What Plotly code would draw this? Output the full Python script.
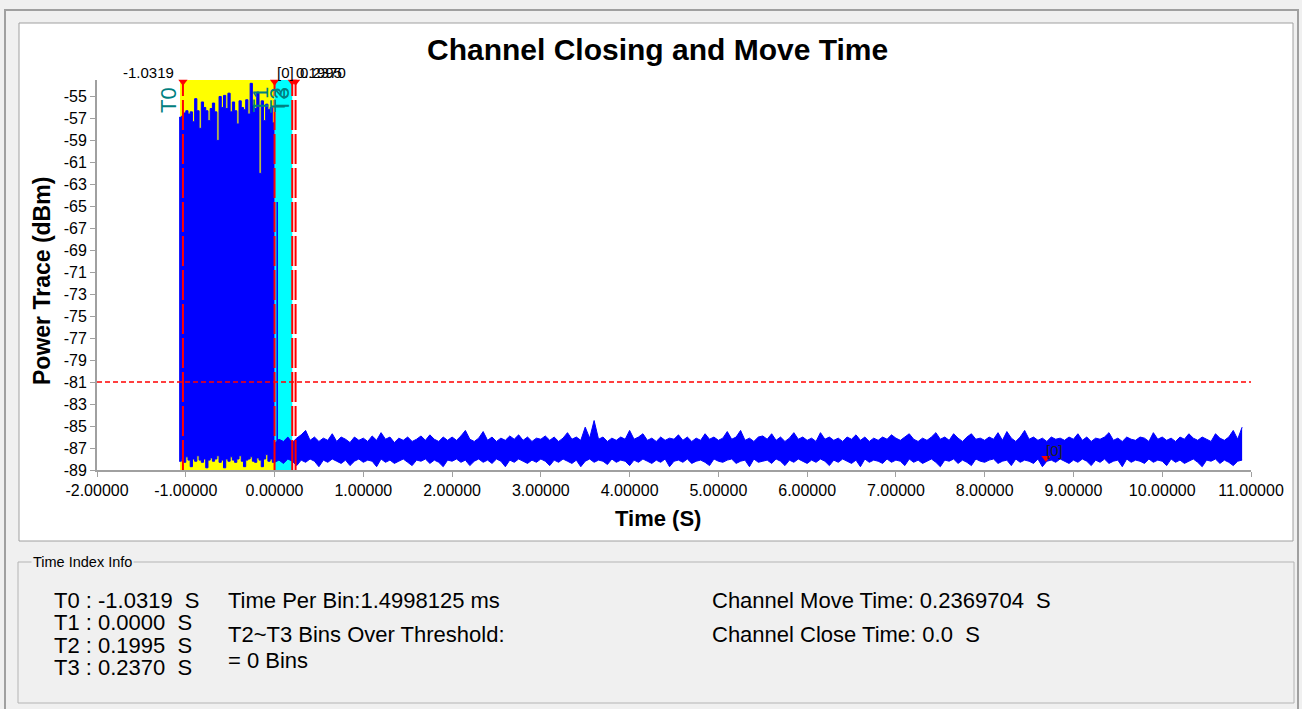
import numpy as np
import plotly.graph_objects as go

# ---------------- data ----------------
# Segment A: strong signal before T1 (upper / lower envelope of the power trace, dBm)
seg_a_start = -1.075
seg_a_step = 0.025
power_hi_a = [
    -56.9, -56.8, -56.5, -56.3, -56.6, -56.4, -57.3, -55.2, -56.3, -57.9, -55.5,
    -56.0, -56.3, -57.2, -56.1, -55.6, -56.4, -59.0, -55.0, -56.0, -54.9, -56.1,
    -54.7, -56.4, -55.5, -56.3, -57.5, -55.4, -56.0, -56.2, -55.3, -56.6, -53.8,
    -55.8, -56.1, -54.6, -62.0, -55.4, -57.2, -55.7, -56.2, -56.0, -57.4, -56.5,
]
power_lo_a = [
    -88.2, -88.0, -88.3, -87.8, -88.1, -88.7, -88.0, -88.2, -87.7, -88.1, -88.3,
    -88.0, -88.8, -88.1, -87.9, -88.2, -88.0, -87.7, -88.3, -88.1, -88.8, -88.0,
    -88.2, -87.8, -88.1, -88.3, -88.0, -87.7, -88.2, -88.7, -88.1, -88.0, -87.8,
    -88.2, -88.3, -87.9, -88.1, -88.7, -88.0, -87.6, -88.2, -88.0, -88.3, -88.1,
]

# Segment B: noise floor after T1 (upper / lower envelope, dBm)
seg_b_start = 0.0
seg_b_step = 0.05
power_hi_b = [
    -86.6, -86.2, -86.4, -86.0, -86.5, -86.1, -85.8, -85.4, -86.3, -86.0, -86.4, -86.1, -86.3, -85.7, -86.4, -86.0, -86.2, -86.5, -86.0, -86.3,
    -86.1, -86.4, -85.9, -86.3, -85.6, -86.2, -86.0, -86.5, -86.1, -86.3, -86.0, -86.4, -86.2, -85.9, -86.3, -85.8, -86.2, -86.4, -86.0, -86.3,
    -86.0, -86.3, -85.9, -85.4, -86.2, -86.4, -86.1, -85.5, -86.3, -86.0, -86.4, -86.1, -86.3, -85.9, -86.2, -85.8, -86.3, -86.0, -86.4, -86.1,
    -86.2, -85.9, -86.3, -86.0, -86.4, -86.1, -85.6, -86.2, -86.0, -86.3, -85.1, -86.1, -84.5, -86.2, -86.0, -86.4, -86.1, -86.3, -86.0, -86.2,
    -85.4, -86.2, -86.0, -85.7, -86.3, -86.1, -86.4, -86.0, -86.3, -86.1, -86.2, -85.8, -86.3, -86.0, -86.4, -86.1, -86.3, -85.7, -86.2, -86.0,
    -86.3, -86.1, -85.5, -86.2, -86.0, -85.4, -86.3, -86.1, -86.4, -86.0, -85.9, -86.2, -85.7, -86.3, -86.0, -86.4, -86.1, -85.6, -86.2, -86.0,
    -86.3, -86.1, -86.4, -85.6, -86.2, -86.0, -86.3, -86.1, -86.4, -86.0, -86.2, -85.8, -86.3, -86.0, -86.4, -86.1, -86.3, -86.0, -86.2, -85.8,
    -86.1, -86.3, -86.0, -85.7, -86.2, -86.4, -86.1, -86.3, -86.0, -85.6, -86.2, -86.0, -86.3, -85.7, -86.1, -86.4, -86.0, -85.7, -86.2, -86.1,
    -86.3, -86.0, -86.2, -85.6, -86.3, -85.5, -86.1, -86.4, -86.0, -85.4, -86.2, -86.0, -86.3, -86.1, -86.4, -86.0, -86.2, -86.1, -86.3, -86.0,
    -86.2, -85.7, -86.3, -86.0, -86.4, -86.1, -86.2, -86.0, -85.6, -86.3, -86.1, -86.4, -86.0, -86.2, -86.3, -86.0, -86.1, -86.4, -85.6, -86.2,
    -86.0, -86.3, -86.1, -86.4, -86.0, -86.2, -85.7, -86.1, -86.3, -86.0, -86.2, -86.4, -85.7, -86.1, -86.3, -86.0, -85.4, -86.2, -85.1,
]
power_lo_b = [
    -88.3, -88.1, -88.4, -88.0, -88.2, -88.6, -88.1, -88.3, -88.0, -88.2, -88.7, -88.1, -88.3, -88.0, -88.2, -88.4, -88.1, -88.6, -88.2, -88.0,
    -88.3, -88.1, -88.2, -88.7, -88.0, -88.3, -88.1, -88.4, -88.2, -88.0, -88.3, -88.6, -88.1, -88.2, -88.0, -88.4, -88.1, -88.3, -88.7, -88.1,
    -88.2, -88.0, -88.3, -88.1, -88.6, -88.2, -88.0, -88.3, -88.1, -88.4, -88.0, -88.2, -88.7, -88.1, -88.3, -88.0, -88.2, -88.4, -88.1, -88.3,
    -88.0, -88.2, -88.6, -88.1, -88.3, -88.0, -88.2, -88.4, -88.1, -88.7, -88.2, -88.0, -88.3, -88.1, -88.2, -88.5, -88.0, -88.3, -88.1, -88.2,
    -88.6, -88.1, -88.3, -88.0, -88.2, -88.4, -88.1, -88.3, -88.0, -88.7, -88.2, -88.1, -88.3, -88.0, -88.4, -88.2, -88.1, -88.3, -88.6, -88.0,
    -88.2, -88.3, -88.1, -88.0, -88.4, -88.2, -88.1, -88.7, -88.0, -88.3, -88.2, -88.1, -88.4, -88.0, -88.2, -88.6, -88.1, -88.3, -88.0, -88.2,
    -88.4, -88.1, -88.3, -88.0, -88.2, -88.6, -88.1, -88.3, -88.0, -88.2, -88.4, -88.1, -88.7, -88.0, -88.3, -88.1, -88.2, -88.4, -88.0, -88.3,
    -88.1, -88.2, -88.6, -88.0, -88.3, -88.1, -88.4, -88.2, -88.0, -88.3, -88.7, -88.1, -88.2, -88.0, -88.4, -88.1, -88.3, -88.6, -88.0, -88.2,
    -88.3, -88.1, -88.0, -88.4, -88.2, -88.1, -88.6, -88.0, -88.3, -88.1, -88.2, -88.4, -88.0, -88.7, -88.2, -88.1, -88.3, -88.0, -88.2, -88.4,
    -88.1, -88.3, -88.0, -88.2, -88.6, -88.1, -88.3, -88.0, -88.4, -88.2, -88.1, -88.7, -88.0, -88.3, -88.1, -88.2, -88.4, -88.0, -88.3, -88.1,
    -88.2, -88.6, -88.0, -88.3, -88.1, -88.4, -88.2, -88.0, -88.3, -88.7, -88.1, -88.2, -88.0, -88.4, -88.1, -88.3, -88.6, -88.2, -88.1,
]

# narrow spikes (time s, peak dBm)
spike_times = [0.03]
spike_peaks = [-64.6]

# time markers
marker_names = ["T0", "T1", "T2", "T3"]
marker_times = [-1.0319, 0.0, 0.1995, 0.2370]
marker_top_labels = ["-1.0319", "[0]", "0.1995", "0.2370"]
threshold_dbm = -81
cursor_time = 8.69
cursor_power = -87.9
cursor_label = "[0]"
yellow_region = [-1.065, 0.0]
cyan_region = [0.0, 0.1995]

x_tick_vals = list(range(-2, 12))
y_tick_vals = list(range(-55, -90, -2))
x_range = [-2, 11]
y_range = [-89, -53.5]

info_left = ["T0 : -1.0319\u00a0\u00a0S", "T1 : 0.0000\u00a0\u00a0S",
             "T2 : 0.1995\u00a0\u00a0S", "T3 : 0.2370\u00a0\u00a0S"]
info_mid = ["Time Per Bin:1.4998125 ms", "T2~T3 Bins Over Threshold:", "= 0 Bins"]
info_right = ["Channel Move Time: 0.2369704\u00a0\u00a0S", "Channel Close Time: 0.0\u00a0\u00a0S"]

# ---------------- figure ----------------
W, H = 1302, 709
L, R, T, B = 97, 51, 80, 239
PW, PH = W - L - R, H - T - B


def px(x):
    return (x - L) / PW


def py(y):
    return (H - B - y) / PH


FONT = "Liberation Sans, Arial, sans-serif"
BLUE = "#0000FF"
RED = "#FF0000"
TEAL = "#008080"

fig = go.Figure()

n_a = min(len(power_hi_a), len(power_lo_a))
t_a = seg_a_start + seg_a_step * np.arange(n_a)
n_b = min(len(power_hi_b), len(power_lo_b))
t_b = seg_b_start + seg_b_step * np.arange(n_b)

for t, lo, hi, shp in [(t_a, power_lo_a[:n_a], power_hi_a[:n_a], "hv"),
                       (t_b, power_lo_b[:n_b], power_hi_b[:n_b], "linear")]:
    fig.add_trace(go.Scatter(x=t, y=lo, mode="lines", line=dict(color=BLUE, width=1, shape=shp),
                             hoverinfo="skip", showlegend=False))
    fig.add_trace(go.Scatter(x=t, y=hi, mode="lines", line=dict(color=BLUE, width=1, shape=shp),
                             fill="tonexty", fillcolor=BLUE,
                             hoverinfo="skip", showlegend=False))

# narrow spikes
sx, sy = [], []
for st, sp in zip(spike_times, spike_peaks):
    base = float(np.interp(st, t_b, power_hi_b[:n_b]))
    sx += [st, st, None]
    sy += [base, sp, None]
fig.add_trace(go.Scatter(x=sx, y=sy, mode="lines", line=dict(color=BLUE, width=1.5),
                         hoverinfo="skip", showlegend=False))

# top marker triangles
fig.add_trace(go.Scatter(x=marker_times, y=[y_range[1] - 0.15] * len(marker_times),
                         mode="markers", cliponaxis=False,
                         marker=dict(symbol="triangle-down", size=8, color=RED),
                         hoverinfo="skip", showlegend=False))
# cursor marker
fig.add_trace(go.Scatter(x=[cursor_time], y=[cursor_power], mode="markers",
                         marker=dict(symbol="triangle-down", size=8, color=RED),
                         hoverinfo="skip", showlegend=False))

shapes = []
# white chart box
shapes.append(dict(type="rect", xref="paper", yref="paper", x0=px(19), x1=px(1293),
                   y0=py(23), y1=py(541), fillcolor="white",
                   line=dict(color="#A0A0A0", width=1), layer="below"))
# shaded regions
shapes.append(dict(type="rect", xref="x", yref="paper", x0=yellow_region[0], x1=yellow_region[1],
                   y0=0, y1=1, fillcolor="#FFFF00", line=dict(width=0), layer="below"))
shapes.append(dict(type="rect", xref="x", yref="paper", x0=cyan_region[0], x1=cyan_region[1],
                   y0=0, y1=1, fillcolor="#00FFFF", line=dict(width=0), layer="below"))
# threshold
shapes.append(dict(type="line", xref="paper", yref="y", x0=0, x1=1, y0=threshold_dbm, y1=threshold_dbm,
                   line=dict(color=RED, width=1.5, dash="5px,3px"), layer="above"))
# marker lines
for mt in marker_times:
    shapes.append(dict(type="line", xref="x", yref="paper", x0=mt, x1=mt, y0=0, y1=1,
                       line=dict(color=RED, width=2, dash="30px,4px"), layer="above"))
# outer frame
shapes.append(dict(type="rect", xref="paper", yref="paper", x0=px(5), x1=px(1298),
                   y0=py(10), y1=py(720), line=dict(color="#A0A0A0", width=2)))
# group box
shapes.append(dict(type="rect", xref="paper", yref="paper", x0=px(18), x1=px(1294),
                   y0=py(562), y1=py(703), line=dict(color="#B4B4B4", width=1)))

ann = []
ann.append(dict(text="<b>Channel Closing and Move Time</b>", xref="paper", yref="paper",
                x=px(657), y=py(49), showarrow=False, xanchor="center", yanchor="middle",
                font=dict(family=FONT, size=30, color="black")))
ann.append(dict(text="<b>Time (S)</b>", xref="paper", yref="paper",
                x=px(658), y=py(518), showarrow=False, xanchor="center", yanchor="middle",
                font=dict(family=FONT, size=22, color="black")))
ann.append(dict(text="<b>Power Trace (dBm)</b>", xref="paper", yref="paper", textangle=-90,
                x=px(42), y=py(281), showarrow=False, xanchor="center", yanchor="middle",
                font=dict(family=FONT, size=23, color="black")))

# top marker labels
anchors = ["right", "left", "left", "left"]
shifts = [-7, 0, 2, 2]
for mt, lab, a, s in zip(marker_times, marker_top_labels, anchors, shifts):
    ann.append(dict(text=lab, xref="x", yref="paper", x=mt, y=py(72), xshift=s,
                    showarrow=False, xanchor=a, yanchor="middle",
                    font=dict(family=FONT, size=15, color="black")))
# T labels
for mt, nm in zip(marker_times, marker_names):
    ann.append(dict(text=nm, xref="x", yref="paper", x=mt, y=py(100), xshift=-15,
                    textangle=-90, showarrow=False, xanchor="center", yanchor="middle",
                    font=dict(family=FONT, size=22, color=TEAL)))
# cursor label
ann.append(dict(text=cursor_label, xref="x", yref="y", x=cursor_time, y=cursor_power + 0.7,
                xshift=-2, showarrow=False, xanchor="left", yanchor="middle",
                font=dict(family=FONT, size=15, color="#222222")))

# info panel
ann.append(dict(text="Time Index Info", xref="paper", yref="paper", x=px(31), y=py(562),
                showarrow=False, xanchor="left", yanchor="middle", bgcolor="#F0F0F0",
                borderpad=1, font=dict(family=FONT, size=14.5, color="black")))
for txt, yy in zip(info_left, [600, 622, 645, 667]):
    ann.append(dict(text=txt, xref="paper", yref="paper", x=px(52), y=py(yy),
                    showarrow=False, xanchor="left", yanchor="middle",
                    font=dict(family=FONT, size=22, color="black")))
for txt, yy in zip(info_mid, [600, 634, 660]):
    ann.append(dict(text=txt, xref="paper", yref="paper", x=px(226), y=py(yy),
                    showarrow=False, xanchor="left", yanchor="middle",
                    font=dict(family=FONT, size=22, color="black")))
for txt, yy in zip(info_right, [600, 634]):
    ann.append(dict(text=txt, xref="paper", yref="paper", x=px(710), y=py(yy),
                    showarrow=False, xanchor="left", yanchor="middle",
                    font=dict(family=FONT, size=22, color="black")))

fig.update_layout(
    width=W, height=H,
    margin=dict(l=L, r=R, t=T, b=B, pad=0),
    paper_bgcolor="#F0F0F0", plot_bgcolor="white",
    showlegend=False,
    shapes=shapes, annotations=ann,
    font=dict(family=FONT, color="black"),
)
fig.update_xaxes(range=x_range, tickmode="array", tickvals=x_tick_vals,
                 ticktext=[f"{v:.5f}" for v in x_tick_vals],
                 showgrid=False, zeroline=False, showline=True, linecolor="#A0A0A0", linewidth=2,
                 ticks="outside", ticklen=5, tickcolor="#A0A0A0", tickwidth=1,
                 tickfont=dict(family=FONT, size=16, color="black"))
fig.update_yaxes(range=y_range, tickmode="array", tickvals=y_tick_vals,
                 ticktext=[str(v) for v in y_tick_vals],
                 showgrid=False, zeroline=False, showline=True, linecolor="#A0A0A0", linewidth=2,
                 ticks="outside", ticklen=5, tickcolor="#A0A0A0", tickwidth=1,
                 tickfont=dict(family=FONT, size=16, color="black"))

fig.write_html("out.html", config={"displayModeBar": False},
               post_script="document.body.style.margin='0';document.body.style.overflow='hidden';")
